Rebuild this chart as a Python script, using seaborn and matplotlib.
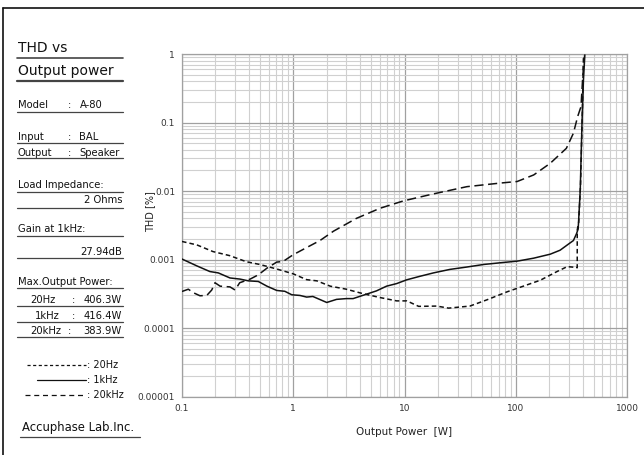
import matplotlib
matplotlib.use("Agg")
import matplotlib.pyplot as plt
import seaborn as sns
import numpy as np
import pandas as pd
from matplotlib.lines import Line2D
from matplotlib.ticker import FixedLocator, FixedFormatter, LogLocator, NullFormatter

# THD vs output power readings (W, %)
x_20hz = [0.1, 0.136, 0.19, 0.27, 0.38, 0.5, 0.71, 1.0, 1.32, 1.63, 2.15, 3.0, 4.2, 6.0,
          8.5, 10.5, 13.4, 19.5, 24.9, 38.7, 55.4, 84, 117, 166, 235, 290, 350, 357,
          357, 368, 382, 396, 406]
y_20hz = [0.00184, 0.00164, 0.00131, 0.00114, 0.00093, 0.00085, 0.00073, 0.00062, 0.00051,
          0.00049, 0.00041, 0.00037, 0.00032, 0.00028, 0.00025, 0.00025, 0.000208, 0.00021,
          0.000196, 0.00021, 0.00026, 0.00034, 0.00041, 0.0005, 0.00067, 0.00079, 0.00077,
          0.00076, 0.0027, 0.0035, 0.012, 0.12, 0.9]

x_1khz = [0.1, 0.136, 0.178, 0.212, 0.27, 0.332, 0.395, 0.485, 0.58, 0.71, 0.84, 0.97,
          1.15, 1.32, 1.5, 2.0, 2.45, 3.0, 3.45, 4.2, 5.6, 6.9, 8.5, 10.5, 13.7, 18.2,
          25.6, 36.4, 51.6, 73, 103, 145, 204, 250, 300, 330, 352, 364, 380, 394, 406, 418]
y_1khz = [0.00102, 0.00081, 0.00067, 0.00064, 0.00054, 0.00052, 0.00049, 0.00048, 0.00041,
          0.000355, 0.000345, 0.000307, 0.0003, 0.000284, 0.00029, 0.000237, 0.000263,
          0.00027, 0.00027, 0.0003, 0.00035, 0.00041, 0.000447, 0.000508, 0.00057, 0.00064,
          0.00072, 0.00078, 0.00085, 0.0009, 0.00095, 0.00105, 0.0012, 0.00137, 0.0017,
          0.0019, 0.0024, 0.0028, 0.0104, 0.098, 0.42, 0.97]

x_20khz = [0.1, 0.114, 0.126, 0.145, 0.167, 0.185, 0.198, 0.22, 0.27, 0.3, 0.33, 0.41,
           0.485, 0.58, 0.71, 0.81, 1.0, 1.32, 1.74, 2.3, 3.7, 6.0, 9.8, 18.2, 36.4, 73,
           103, 145, 204, 285, 330, 360, 386, 398, 412]
y_20khz = [0.000343, 0.00037, 0.00033, 0.000297, 0.0003, 0.00036, 0.00046, 0.00041, 0.0004,
           0.00036, 0.00046, 0.00052, 0.0006, 0.00075, 0.00092, 0.00094, 0.00118, 0.0015,
           0.0019, 0.0026, 0.004, 0.0056, 0.0072, 0.0091, 0.0116, 0.0131, 0.0138, 0.0172,
           0.0254, 0.042, 0.07, 0.122, 0.171, 0.4, 0.9]

x_ticks = [0.1, 1, 10, 100, 1000]
x_tick_labels = ["0.1", "1", "10", "100", "1000"]
y_ticks = [0.00001, 0.0001, 0.001, 0.01, 0.1, 1]
y_tick_labels = ["0.00001", "0.0001", "0.001", "0.01", "0.1", "1"]

sns.set_style("white")
plt.rcParams["font.family"] = ["DejaVu Sans"]

W, H = 644, 455
fig = plt.figure(figsize=(W / 100, H / 100), dpi=100)
ax = fig.add_axes([182 / W, 1 - 396.7 / H, (627 - 182) / W, (396.7 - 54) / H])

series = [(x_20hz, y_20hz, (0, (3, 2))),
          (x_1khz, y_1khz, "-"),
          (x_20khz, y_20khz, (0, (6, 3)))]
for xs, ys, ls in series:
    df = pd.DataFrame({"power": xs, "thd": ys})
    sns.lineplot(data=df, x="power", y="thd", ax=ax, color="#111111", lw=1.1,
                 linestyle=ls, sort=False, estimator=None, zorder=3)

ax.set_xscale("log")
ax.set_yscale("log")
ax.set_xlim(0.1, 1000)
ax.set_ylim(0.00001, 1)
ax.xaxis.set_major_locator(FixedLocator(x_ticks))
ax.xaxis.set_major_formatter(FixedFormatter(x_tick_labels))
ax.yaxis.set_major_locator(FixedLocator(y_ticks))
ax.yaxis.set_major_formatter(FixedFormatter(y_tick_labels))
for axis in (ax.xaxis, ax.yaxis):
    axis.set_minor_locator(LogLocator(base=10, subs=np.arange(2, 10), numticks=20))
    axis.set_minor_formatter(NullFormatter())
ax.grid(which="major", color="#a0a0a0", lw=0.9)
ax.grid(which="minor", color="#d0d0d0", lw=0.8)
ax.tick_params(which="both", length=0, labelsize=6.5, colors="#333333", pad=5)
for sp in ax.spines.values():
    sp.set_color("#a0a0a0")
    sp.set_linewidth(0.9)
ax.set_xlabel("Output Power  [W]", fontsize=7.5, color="#222222", labelpad=10)
ax.set_ylabel("")
fig.text(150 / W, 1 - 212 / H, "THD [%]", rotation=90, ha="center", va="center",
         fontsize=7, color="#222222")


def px(x, y):
    return x / W, 1 - y / H


def uline(y, x0=17, x1=123, lw=0.9):
    fig.add_artist(Line2D([x0 / W, x1 / W], [1 - y / H, 1 - y / H],
                          color="#444444", lw=lw, transform=fig.transFigure))


def txt(x, y, s, size=7.2, ha="left", **kw):
    fig.text(*px(x, y), s, fontsize=size, ha=ha, va="baseline", color="#111111", **kw)


# frame
fig.add_artist(Line2D([3 / W, 3 / W], [0, 1 - 8 / H], color="#111111", lw=1.2,
                      transform=fig.transFigure))
fig.add_artist(Line2D([3 / W, 1], [1 - 8 / H, 1 - 8 / H], color="#111111", lw=1.2,
                      transform=fig.transFigure))

txt(18, 52, "THD vs", size=10)
uline(58.3, lw=1.2)
txt(18, 75, "Output power", size=10)
uline(80.5, lw=1.6)

txt(18, 108, "Model"); txt(68, 108, ":"); txt(80, 108, "A-80")
uline(111.7)
txt(18, 140.5, "Input"); txt(68, 140.5, ":"); txt(79, 140.5, "BAL")
uline(143.3)
txt(18, 155.5, "Output"); txt(68, 155.5, ":"); txt(79, 155.5, "Speaker")
uline(158.3)
txt(18, 187.5, "Load Impedance:")
uline(191.7)
txt(122, 203.3, "2 Ohms", ha="right")
uline(208.3)
txt(18, 232.5, "Gain at 1kHz:")
uline(236)
txt(122, 255, "27.94dB", ha="right")
uline(258.3)
txt(18, 285, "Max.Output Power:")
uline(288.3)
for yy, f, p, fx, cx in [(303, "20Hz", "406.3W", 30, 72), (319, "1kHz", "416.4W", 35, 72),
                         (334.5, "20kHz", "383.9W", 30, 68)]:
    txt(fx, yy, f); txt(cx, yy, ":"); txt(122, yy, p, ha="right")
    uline(yy + 2.8)

# legend
for yy, ls, x0, lab in [(365, (0, (2.5, 2)), 27, ": 20Hz"), (380, "-", 37, ": 1kHz"),
                        (395, (0, (4, 3)), 25, ": 20kHz")]:
    fig.add_artist(Line2D([x0 / W, 86 / W], [1 - yy / H, 1 - yy / H], color="#111111",
                          lw=0.9, linestyle=ls, transform=fig.transFigure))
    fig.text(*px(87, yy), lab, fontsize=7, ha="left", va="center", color="#111111")

txt(21.5, 431.5, "Accuphase Lab.Inc.", size=8.4)
uline(436.7, x0=20, x1=140)

fig.savefig("out.png", dpi=100)
